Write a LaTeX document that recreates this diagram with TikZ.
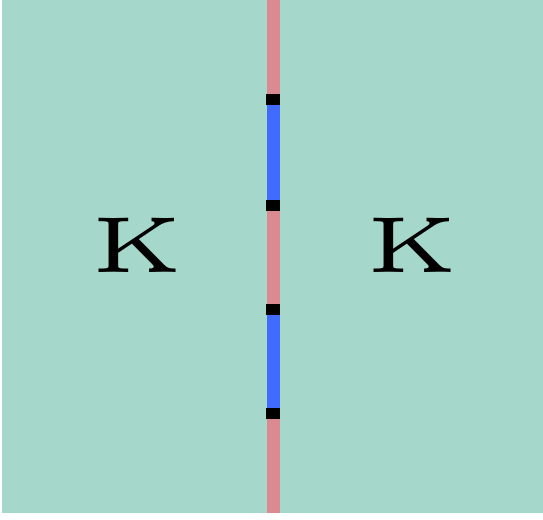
\documentclass[tikz,border=0pt]{standalone}
\definecolor{teal1}{HTML}{A5D8CB}
\definecolor{pink1}{HTML}{DC8A92}
\definecolor{blue1}{HTML}{3F6BFF}
\tikzset{
  region/.style={fill=teal1,draw=none},
  pinkseg/.style={fill=pink1,draw=none},
  blueseg/.style={fill=blue1,draw=none},
  joint/.style={fill=black,draw=none},
  klabel/.style={inner sep=0pt,font=\fontsize{5}{5}\selectfont}
}
\newcommand{\bigK}{\scalebox{18.1}[15.9]{K}}
\begin{document}
\begin{tikzpicture}[x=1pt,y=-1pt]
\useasboundingbox (0,0) rectangle (543,519);
\fill[region] (2,0) rectangle (543,513);
\fill[pinkseg] (267,0) rectangle (279.5,513);
\fill[blueseg] (267,105) rectangle (280,200);
\fill[blueseg] (267,315) rectangle (280,408);
\fill[joint] (266,94) rectangle (280,105);
\fill[joint] (266,200) rectangle (280,211);
\fill[joint] (266,304) rectangle (280,315);
\fill[joint] (266,408) rectangle (280,419);
\node[klabel] (kl) at (137,245.5) {\bigK};
\node[klabel] (kr) at (412,245.5) {\bigK};
\end{tikzpicture}
\end{document}
